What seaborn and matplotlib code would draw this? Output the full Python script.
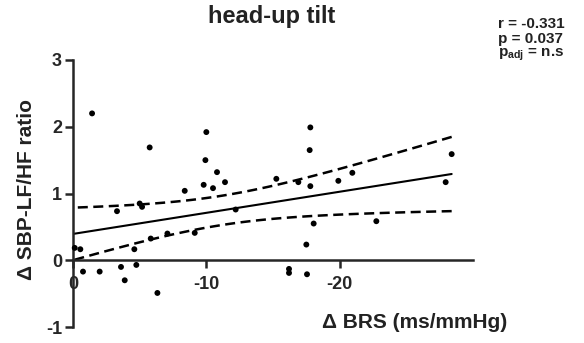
import numpy as np
import pandas as pd
import matplotlib
matplotlib.use("Agg")
import matplotlib.pyplot as plt
import seaborn as sns

# points (delta BRS, delta SBP-LF/HF ratio)
brs = [-1.43, -5.75, -10.0, -9.93, -10.8, -11.4, -9.8, -10.5, -8.38, -5.0,
       -5.18, -3.3, -12.2, -5.83, -7.08, -9.13, -4.6, -0.13, -0.55, -0.75,
       -2.0, -3.6, -4.75, -3.88, -6.33,
       -17.8, -17.75, -28.4, -15.25, -16.9, -17.8, -19.9, -20.95, -27.95, -18.05,
       -22.75, -17.5, -16.2, -16.2, -17.55]
ratio = [2.20, 1.69, 1.92, 1.50, 1.32, 1.17, 1.13, 1.08, 1.04, 0.85,
         0.80, 0.735, 0.76, 0.325, 0.40, 0.41, 0.165, 0.185, 0.165, -0.17,
         -0.17, -0.10, -0.07, -0.30, -0.49,
         1.99, 1.65, 1.59, 1.22, 1.17, 1.11, 1.19, 1.31, 1.17, 0.55,
         0.585, 0.235, -0.13, -0.19, -0.21]

x_ticks = [0, -10, -20]
y_ticks = [-1, 0, 1, 2, 3]
stats_lines = ["r = -0.331", "p = 0.037", r"$\mathbf{p}_{\mathbf{adj}}$ = n.s"]

df = pd.DataFrame({"brs": brs, "ratio": ratio})

# linear fit + 95% confidence band
x = df["brs"].values
y = df["ratio"].values
n = len(x)
b1, b0 = np.polyfit(x, y, 1)
resid = y - (b0 + b1 * x)
s = np.sqrt(np.sum(resid ** 2) / (n - 2))
t = 2.023
grid = np.linspace(0, x.min(), 100)
fit = b0 + b1 * grid
se = s * np.sqrt(1 / n + (grid - x.mean()) ** 2 / np.sum((x - x.mean()) ** 2))
band = pd.DataFrame({"x": grid, "fit": fit, "lo": fit - t * se, "hi": fit + t * se})

sns.set_style("ticks")
plt.rcParams["font.family"] = ["Liberation Sans", "DejaVu Sans"]
plt.rcParams["mathtext.fontset"] = "custom"
plt.rcParams["mathtext.bf"] = "Liberation Sans:bold"
plt.rcParams["mathtext.rm"] = "Liberation Sans:bold"
plt.rcParams["axes.unicode_minus"] = False

fig = plt.figure(figsize=(5.84, 3.43), dpi=100)
ax = fig.add_axes([73 / 584, 16 / 343, 400 / 584, 267 / 343])

sns.scatterplot(data=df, x="brs", y="ratio", ax=ax, color="black", s=18,
                edgecolor="none", zorder=3, clip_on=False)
sns.lineplot(data=band, x="x", y="fit", ax=ax, color="black", lw=1.5)
sns.lineplot(data=band, x="x", y="lo", ax=ax, color="black", lw=1.8, dashes=(4, 2.2))
sns.lineplot(data=band, x="x", y="hi", ax=ax, color="black", lw=1.8, dashes=(4, 2.2))

ax.set_xlim(0, -30)
ax.set_ylim(-1, 3)
ax.set_xticks(x_ticks)
ax.set_yticks(y_ticks)
ax.set_xlabel("")
ax.set_ylabel("")
ax.spines["bottom"].set_position(("data", 0))
for side in ["top", "right"]:
    ax.spines[side].set_visible(False)
for side in ["left", "bottom"]:
    ax.spines[side].set_linewidth(1.8)
ax.tick_params(width=1.8, length=6, labelsize=13, pad=2)
ax.tick_params(axis="x", pad=5)
for lab in ax.get_xticklabels() + ax.get_yticklabels():
    lab.set_fontweight("bold")

fig.text(272 / 584, 1 - 16 / 343, "head-up tilt", ha="center", va="center",
         fontsize=17, fontweight="bold", color="#222222")
fig.text(415 / 584, 1 - 322 / 343, "\u0394 BRS (ms/mmHg)", ha="center", va="center",
         fontsize=15, fontweight="bold", color="#222222")
fig.text(27 / 584, 1 - 190 / 343, "\u0394 SBP-LF/HF ratio", ha="center", va="center",
         rotation=90, fontsize=15, fontweight="bold", color="#222222")
for i, line in enumerate(stats_lines):
    fig.text(498 / 584, 1 - (24 + 15.5 * i) / 343, line, ha="left", va="center",
             fontsize=11, fontweight="bold", color="#222222")

fig.savefig("out.png", dpi=100)
